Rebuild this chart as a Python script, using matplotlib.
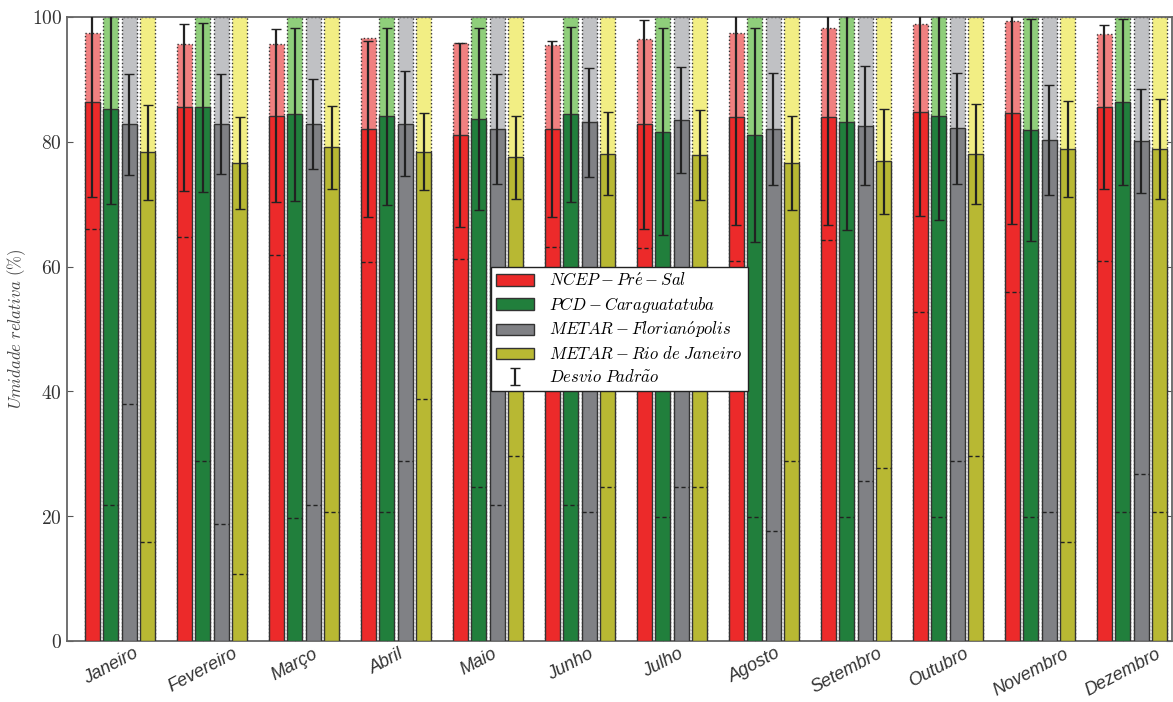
import numpy as np
import matplotlib
matplotlib.use("Agg")
import matplotlib.pyplot as plt

plt.rcParams['mathtext.fontset'] = 'cm'

# --- data ---
months = ['Janeiro', 'Fevereiro', 'Março', 'Abril', 'Maio', 'Junho',
          'Julho', 'Agosto', 'Setembro', 'Outubro', 'Novembro', 'Dezembro']

series_labels = [r'$NCEP-Pr\acute{e}-Sal$',
                 r'$PCD-Caraguatatuba$',
                 r'$METAR-Florian\acute{o}polis$',
                 r'$METAR-Rio\ de\ Janeiro$']

# mean (solid bar)
mean_ncep = [86.3, 85.5, 84.2, 82.0, 81.1, 82.0, 82.8, 83.9, 83.9, 84.8, 84.6, 85.6]
mean_pcd = [85.2, 85.5, 84.4, 84.1, 83.7, 84.4, 81.6, 81.1, 83.1, 84.1, 81.9, 86.3]
mean_flo = [82.8, 82.9, 82.8, 82.9, 82.0, 83.1, 83.5, 82.1, 82.6, 82.2, 80.3, 80.1]
mean_rio = [78.3, 76.6, 79.1, 78.4, 77.5, 78.1, 77.9, 76.6, 76.9, 78.0, 78.8, 78.8]

# maximum (light bar)
max_ncep = [97.5, 95.7, 95.7, 96.6, 95.8, 95.5, 96.4, 97.4, 98.3, 98.8, 99.4, 97.2]
max_pcd = [100] * 12
max_flo = [100] * 12
max_rio = [100] * 12

# minimum (dashed mark)
min_ncep = [66.1, 64.7, 61.9, 60.7, 61.2, 63.2, 62.9, 60.9, 64.3, 52.8, 56.0, 60.9]
min_pcd = [21.8, 28.8, 19.7, 20.7, 24.6, 21.8, 19.8, 19.8, 19.8, 19.8, 19.8, 20.7]
min_flo = [37.9, 18.8, 21.8, 28.8, 21.8, 20.7, 24.6, 17.7, 25.7, 28.8, 20.7, 26.8]
min_rio = [15.8, 10.7, 20.7, 38.8, 29.6, 24.6, 24.6, 28.8, 27.7, 29.6, 15.8, 20.7]

# standard deviation
std_ncep = [15.1, 13.4, 13.9, 14.1, 14.7, 14.1, 16.7, 17.3, 17.2, 16.7, 17.7, 13.1]
std_pcd = [15.2, 13.5, 13.9, 14.2, 14.6, 14.0, 16.6, 17.2, 17.3, 16.7, 17.8, 13.3]
std_flo = [8.1, 8.0, 7.2, 8.4, 8.8, 8.7, 8.5, 9.0, 9.6, 8.9, 8.8, 8.3]
std_rio = [7.6, 7.3, 6.7, 6.2, 6.7, 6.6, 7.2, 7.5, 8.4, 8.0, 7.7, 8.0]

means = [mean_ncep, mean_pcd, mean_flo, mean_rio]
maxs = [max_ncep, max_pcd, max_flo, max_rio]
mins = [min_ncep, min_pcd, min_flo, min_rio]
stds = [std_ncep, std_pcd, std_flo, std_rio]

dark_colors = ['#ec2a2a', '#217f3c', '#808185', '#b8b833']
light_colors = ['#f08080', '#8fce7b', '#c0c1c4', '#f2ee84']

fig = plt.figure(figsize=(11.73, 7.02), dpi=100)
ax = fig.add_axes([0.0571, 0.0869, 0.9419, 0.8889])

ind = np.arange(len(months))
width = 0.165
step = 0.2

handles = []
for k in range(4):
    x = ind + k * step
    # light bar up to the maximum, dark bar up to the mean
    ax.bar(x, maxs[k], width, color=light_colors[k], edgecolor='#333333',
           linestyle=':', linewidth=1.0, zorder=2)
    b = ax.bar(x, means[k], width, color=dark_colors[k], edgecolor='#333333',
               linewidth=1.0, zorder=3, label=series_labels[k])
    handles.append(b)
    ax.hlines(mins[k], x - width / 2, x + width / 2, colors='#222222',
              linestyles=(0, (3, 2)), linewidth=1.0, zorder=4)
    eb = ax.errorbar(x, means[k], yerr=stds[k], fmt='none', ecolor='#222222',
                     elinewidth=1.6, capsize=3.5, capthick=1.0, zorder=5)
handles.append(eb)

leg = ax.legend(handles, series_labels + [r'$Desvio\ Padr\tilde{a}o$'],
                loc='center', fontsize=12, fancybox=False, framealpha=1,
                edgecolor='#222222', handlelength=2.3, borderpad=0.3,
                labelspacing=0.3, handletextpad=0.9)
leg.get_frame().set_linewidth(1.0)
leg.set_zorder(10)

ax.set_xlim(-0.277, 11.734)
ax.set_ylim(0, 100)
ax.set_xticks(ind + step)
ax.set_xticklabels(months, rotation=28, ha='center', fontsize=13,
                   family='Liberation Sans', style='italic')
ax.set_yticks([0, 20, 40, 60, 80, 100])
ax.set_yticklabels([f'${v}$' for v in [0, 20, 40, 60, 80, 100]], fontsize=14)
ax.set_ylabel(r'$Umidade\ relativa\ (\%)$', fontsize=12, color='#444444', labelpad=3)
ax.tick_params(direction='in', right=True, top=False, length=4, color='#555555',
               labelcolor='#333333')
ax.tick_params(axis='x', pad=3)
for s in ax.spines.values():
    s.set_color('#666666')
    s.set_linewidth(1.3)

fig.savefig('out.png', dpi=100)
